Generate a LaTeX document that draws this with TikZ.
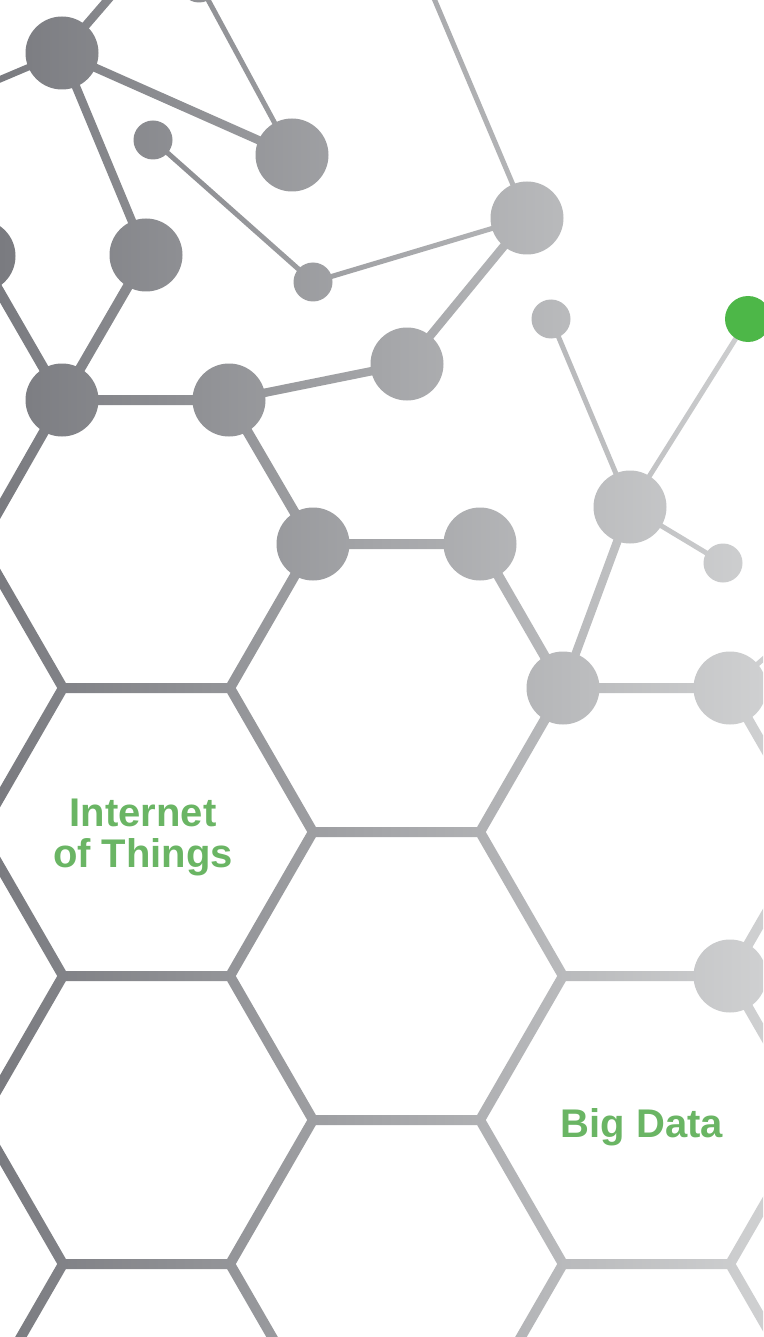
\documentclass[tikz,border=0pt]{standalone}
\usepackage{fontspec}
\setmainfont{Liberation Sans}
\usetikzlibrary{calc}
\definecolor{gL}{RGB}{122,123,128}
\definecolor{gR}{RGB}{207,208,209}
\definecolor{txtgreen}{RGB}{106,181,100}
\definecolor{dotgreen}{RGB}{77,183,72}
% a connector of half-width #3 between the named points #1 and #2, as a closed outline
\newcommand\seglink[3]{($(#1.center)!#3!90:(#2.center)$) -- ($(#2.center)!#3!-90:(#1.center)$) -- ($(#2.center)!#3!90:(#1.center)$) -- ($(#1.center)!#3!-90:(#2.center)$) -- cycle }
\newcommand\hexw{5pt}
\newcommand\midw{4.25pt}
\newcommand\sidew{3.25pt}
\newcommand\thinw{2.5pt}
\tikzset{
  canvas/.style={x=1pt,y=-1pt},
  bigspot/.style={circle,draw=none,inner sep=0pt,minimum size=73pt},
  smallspot/.style={circle,draw=none,inner sep=0pt,minimum size=39pt},
  netshade/.style={left color=gL,right color=gR},
  caption/.style={text=txtgreen,font=\bfseries\fontsize{40}{41}\selectfont,align=center,inner sep=0pt},
}
\begin{document}
\begin{tikzpicture}[canvas]
\useasboundingbox (0,0) rectangle (763,1337);
\fill[white] (0,0) rectangle (763,1337);
% network nodes
\node[bigspot] (A) at (62,53) {};
\node[bigspot] (B) at (292,155) {};
\node[bigspot] (C) at (146,255) {};
\node[smallspot] (D) at (153,140) {};
\node[smallspot] (E) at (313,282) {};
\node[bigspot] (F) at (527,218) {};
\node[bigspot] (G) at (407,364) {};
\node[smallspot] (T) at (199,-17) {};
\node[bigspot] (I) at (-21,256) {};
\node[bigspot] (H) at (62,400) {};
\node[bigspot] (J) at (229,400) {};
\node[bigspot] (K) at (313,544) {};
\node[bigspot] (L) at (480,544) {};
\node[bigspot] (M) at (563,688) {};
\node[bigspot] (N) at (730,688) {};
\node[bigspot] (O) at (630,507) {};
\node[smallspot] (P) at (551,319) {};
\node[smallspot] (R) at (723,563) {};
\node[bigspot] (S) at (730,976) {};
\coordinate (Q) at (748,319);
% free ends
\coordinate (Aup) at (131,-27);
\coordinate (Aleft) at (-30,92);
\coordinate (Ftop) at (422,-30);
\coordinate (Nb) at (800,627);
% lattice vertices
\coordinate (h544) at (-20,544);
\coordinate (h832) at (-20,832);
\coordinate (h1120) at (-20,1120);
\coordinate (h1408) at (-20,1408);
\coordinate (a688) at (63,688);  \coordinate (b688) at (230,688);
\coordinate (a976) at (63,976);  \coordinate (b976) at (230,976);
\coordinate (a1264) at (63,1264); \coordinate (b1264) at (230,1264);
\coordinate (c832) at (313,832);  \coordinate (d832) at (480,832);
\coordinate (c1120) at (313,1120); \coordinate (d1120) at (480,1120);
\coordinate (c1408) at (313,1408); \coordinate (d1408) at (480,1408);
\coordinate (e976) at (563,976);
\coordinate (e1264) at (563,1264); \coordinate (f1264) at (730,1264);
\coordinate (g832) at (813,832); \coordinate (g1120) at (813,1120); \coordinate (g1408) at (813,1408);
% connectors, shaded with one left-to-right gradient
\begin{scope}
\clip
  \seglink{A}{Aup}{\midw}
  \seglink{A}{Aleft}{\sidew}
  \seglink{A}{B}{\midw}
  \seglink{A}{C}{\midw}
  \seglink{T}{B}{\thinw}
  \seglink{D}{E}{\thinw}
  \seglink{E}{F}{\thinw}
  \seglink{F}{Ftop}{\thinw}
  \seglink{F}{G}{\midw}
  \seglink{J}{G}{\midw}
  \seglink{C}{H}{\hexw}
  \seglink{I}{H}{\hexw}
  \seglink{H}{J}{\hexw}
  \seglink{H}{h544}{\hexw}
  \seglink{J}{K}{\hexw}
  \seglink{K}{L}{\hexw}
  \seglink{K}{b688}{\hexw}
  \seglink{L}{M}{\hexw}
  \seglink{M}{N}{\hexw}
  \seglink{M}{O}{\midw}
  \seglink{O}{P}{\thinw}
  \seglink{O}{Q}{\thinw}
  \seglink{O}{R}{\thinw}
  \seglink{N}{Nb}{\thinw}
  \seglink{h544}{a688}{\hexw}
  \seglink{a688}{b688}{\hexw}
  \seglink{a688}{h832}{\hexw}
  \seglink{b688}{c832}{\hexw}
  \seglink{M}{d832}{\hexw}
  \seglink{c832}{d832}{\hexw}
  \seglink{N}{g832}{\hexw}
  \seglink{h832}{a976}{\hexw}
  \seglink{c832}{b976}{\hexw}
  \seglink{d832}{e976}{\hexw}
  \seglink{g832}{S}{\hexw}
  \seglink{a976}{b976}{\hexw}
  \seglink{e976}{S}{\hexw}
  \seglink{a976}{h1120}{\hexw}
  \seglink{b976}{c1120}{\hexw}
  \seglink{e976}{d1120}{\hexw}
  \seglink{S}{g1120}{\hexw}
  \seglink{c1120}{d1120}{\hexw}
  \seglink{h1120}{a1264}{\hexw}
  \seglink{c1120}{b1264}{\hexw}
  \seglink{d1120}{e1264}{\hexw}
  \seglink{g1120}{f1264}{\hexw}
  \seglink{a1264}{b1264}{\hexw}
  \seglink{e1264}{f1264}{\hexw}
  \seglink{a1264}{h1408}{\hexw}
  \seglink{b1264}{c1408}{\hexw}
  \seglink{e1264}{d1408}{\hexw}
  \seglink{f1264}{g1408}{\hexw};
\shade[netshade] (0,0) rectangle (763,1337);
\end{scope}
% node discs, shaded with the same gradient
\begin{scope}
\clip (A.center) circle[radius=36.5pt] (B.center) circle[radius=36.5pt]
  (C.center) circle[radius=36.5pt] (D.center) circle[radius=19.5pt]
  (E.center) circle[radius=19.5pt] (F.center) circle[radius=36.5pt]
  (G.center) circle[radius=36.5pt] (T.center) circle[radius=19.5pt]
  (I.center) circle[radius=36.5pt] (H.center) circle[radius=36.5pt]
  (J.center) circle[radius=36.5pt] (K.center) circle[radius=36.5pt]
  (L.center) circle[radius=36.5pt] (M.center) circle[radius=36.5pt]
  (N.center) circle[radius=36.5pt] (O.center) circle[radius=36.5pt]
  (P.center) circle[radius=19.5pt] (R.center) circle[radius=19.5pt]
  (S.center) circle[radius=36.5pt];
\shade[netshade] (0,0) rectangle (763,1337);
\end{scope}
\node[circle,fill=dotgreen,draw=none,inner sep=0pt,minimum size=46pt] (Qdot) at (Q) {};
\node[caption] (iot) at (143,837) {Internet\\of Things};
\node[caption] (bd) at (642,1127) {Big Data};
\end{tikzpicture}
\end{document}
